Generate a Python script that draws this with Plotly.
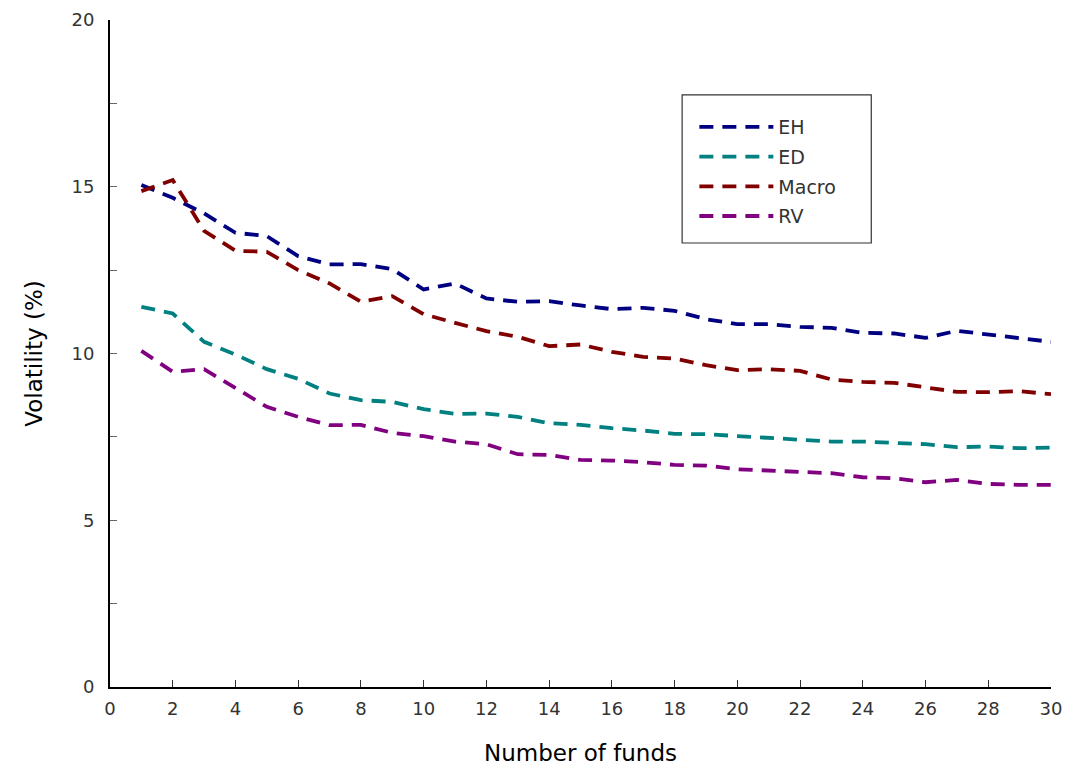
import plotly.graph_objects as go

funds = list(range(1, 31))
eh = [15.05, 14.67, 14.2, 13.62, 13.52, 12.92, 12.67, 12.68, 12.53, 11.92,
      12.1, 11.65, 11.55, 11.57, 11.44, 11.33, 11.37, 11.28, 11.03, 10.88,
      10.88, 10.8, 10.77, 10.62, 10.6, 10.47, 10.68, 10.57, 10.48, 10.35]
ed = [11.4, 11.2, 10.35, 9.97, 9.53, 9.24, 8.8, 8.6, 8.55, 8.33,
      8.19, 8.2, 8.1, 7.91, 7.86, 7.76, 7.69, 7.59, 7.58, 7.52,
      7.47, 7.4, 7.36, 7.36, 7.31, 7.28, 7.19, 7.21, 7.16, 7.18]
macro = [14.87, 15.2, 13.68, 13.08, 13.05, 12.5, 12.1, 11.55, 11.72, 11.18,
         10.92, 10.67, 10.5, 10.22, 10.27, 10.05, 9.9, 9.85, 9.65, 9.5,
         9.53, 9.48, 9.22, 9.15, 9.12, 8.98, 8.85, 8.84, 8.87, 8.78]
rv = [10.08, 9.45, 9.53, 8.96, 8.4, 8.1, 7.85, 7.86, 7.62, 7.52,
      7.36, 7.28, 6.98, 6.96, 6.81, 6.79, 6.74, 6.66, 6.64, 6.53,
      6.49, 6.44, 6.41, 6.29, 6.26, 6.14, 6.21, 6.09, 6.06, 6.06]

series = [("EH", eh, "#000080"), ("ED", ed, "#008080"),
          ("Macro", macro, "#800000"), ("RV", rv, "#800080")]

fig = go.Figure()
for name, vals, color in series:
    fig.add_trace(go.Scatter(x=funds, y=vals, name=name, mode="lines",
                             legendgroup=name,
                             line=dict(color=color, width=3.8, dash="14px,9px")))

font_family = "DejaVu Sans"
fig.update_layout(
    width=1064, height=758,
    margin=dict(l=102, r=21, t=12, b=79),
    plot_bgcolor="white", paper_bgcolor="white",
    font=dict(family=font_family, color="#333333"),
    showlegend=True,
    legend=dict(x=0.621, y=0.868, xanchor="left", yanchor="top",
                bgcolor="rgba(0,0,0,0)", borderwidth=0,
                font=dict(size=19, color="#333333", family=font_family),
                itemwidth=74, tracegroupgap=2),
    shapes=[dict(type="rect", xref="paper", yref="paper",
                 x0=0.608, x1=0.809, y0=0.6657, y1=0.8876,
                 line=dict(color="#333333", width=1.2), fillcolor="rgba(0,0,0,0)")],
)
fig.update_xaxes(range=[0, 30], tickmode="linear", tick0=0, dtick=2,
                 ticks="inside", ticklen=7, tickcolor="#333333", tickwidth=1,
                 showline=True, linecolor="black", linewidth=2,
                 showgrid=False, zeroline=False, automargin=False,
                 ticklabelstandoff=4,
                 tickfont=dict(size=18, color="#333333"),
                 title=dict(text="Number of funds", font=dict(size=23, color="black"), standoff=27))
fig.update_yaxes(range=[0, 20], tickmode="linear", tick0=0, dtick=5,
                 ticks="inside", ticklen=7, tickcolor="#666666", tickwidth=1,
                 minor=dict(dtick=2.5, ticks="inside", ticklen=7, tickcolor="#666666", tickwidth=1),
                 showline=True, linecolor="black", linewidth=2,
                 showgrid=False, zeroline=False, automargin=False,
                 ticklabelstandoff=10,
                 tickfont=dict(size=18, color="#333333"),
                 title=dict(text="Volatility (%)", font=dict(size=23, color="black"), standoff=22))

fig.write_html("out.html")
